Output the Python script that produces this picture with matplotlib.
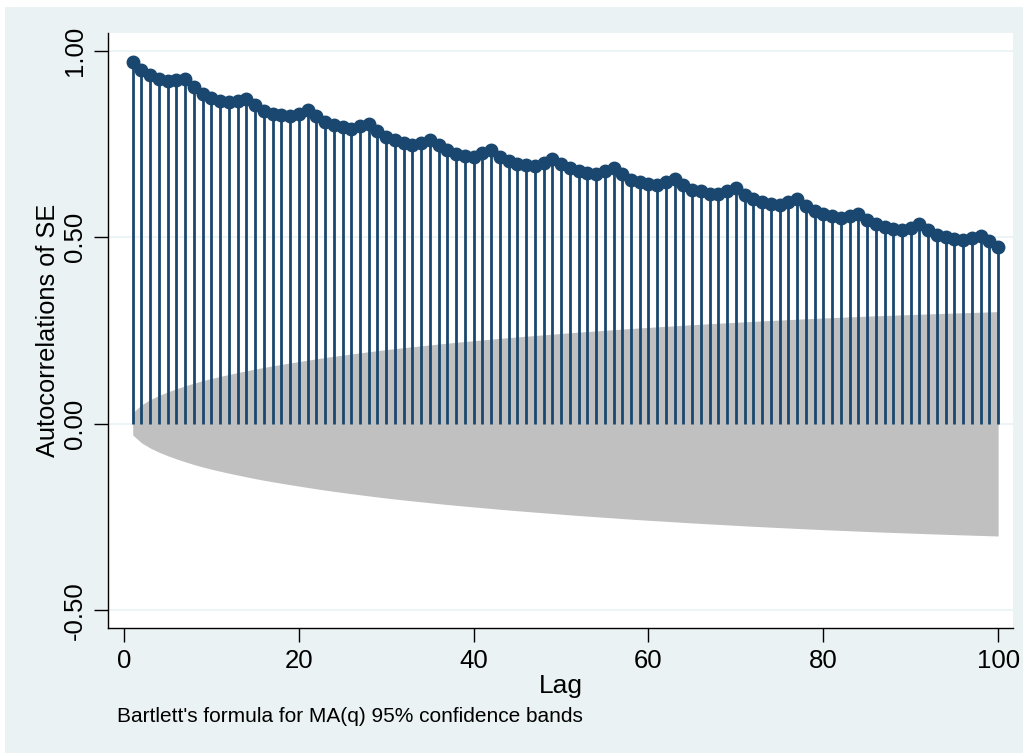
import numpy as np
import matplotlib
matplotlib.use("Agg")
import matplotlib.pyplot as plt
from matplotlib.patches import Rectangle

plt.rcParams['font.family'] = ['Liberation Sans', 'DejaVu Sans']

# autocorrelations of SE, lags 1..100
lags = np.arange(1, 101)
ac = [0.969, 0.947, 0.934, 0.925, 0.918, 0.921, 0.925, 0.902, 0.883, 0.873,
      0.866, 0.862, 0.866, 0.871, 0.853, 0.837, 0.831, 0.827, 0.824, 0.831,
      0.840, 0.824, 0.808, 0.800, 0.795, 0.791, 0.798, 0.802, 0.784, 0.769,
      0.760, 0.753, 0.748, 0.753, 0.761, 0.748, 0.733, 0.724, 0.718, 0.715,
      0.726, 0.733, 0.715, 0.704, 0.697, 0.693, 0.692, 0.699, 0.710, 0.697,
      0.684, 0.676, 0.672, 0.670, 0.678, 0.685, 0.668, 0.654, 0.647, 0.643,
      0.641, 0.647, 0.656, 0.641, 0.627, 0.623, 0.617, 0.616, 0.625, 0.632,
      0.614, 0.601, 0.593, 0.589, 0.587, 0.594, 0.601, 0.583, 0.570, 0.563,
      0.556, 0.551, 0.556, 0.563, 0.547, 0.534, 0.526, 0.522, 0.520, 0.525,
      0.534, 0.520, 0.507, 0.500, 0.496, 0.493, 0.498, 0.504, 0.490, 0.474]
nobs = 4270

yticks = [-0.5, 0.0, 0.5, 1.0]
ytick_labels = ["-0.50", "0.00", "0.50", "1.00"]
xticks = [0, 20, 40, 60, 80, 100]

# Bartlett's formula for MA(q): se_k = sqrt((1 + 2*sum_{i<k} r_i^2) / N)
r = np.array(ac)
cum = np.concatenate([[0.0], np.cumsum(r[:-1] ** 2)])
band = 1.959964 * np.sqrt((1 + 2 * cum) / nobs)

navy = "#1A476F"
bg = "#EAF2F3"

fig = plt.figure(figsize=(10.27, 7.53), dpi=100, facecolor="white")
fig.patches.append(Rectangle((5 / 1027, 0), 1018 / 1027, 746 / 753,
                             transform=fig.transFigure, facecolor=bg,
                             edgecolor="none", zorder=-5))
ax = fig.add_axes([108 / 1027, 1 - 628 / 753, 905 / 1027, 595 / 753])
ax.set_facecolor("white")

for y in yticks:
    ax.axhline(y, color=bg, lw=1.2, zorder=0)

ax.fill_between(lags, -band, band, color="#C0C0C0", lw=0, zorder=1)
ax.vlines(lags, 0, ac, color=navy, lw=2.0, zorder=2)
ax.plot(lags, ac, "o", color=navy, ms=9, zorder=3)

ax.set_xlim(-1.83, 101.7)
ax.set_ylim(-0.547, 1.047)
ax.set_xticks(xticks)
ax.set_yticks(yticks)
ax.set_yticklabels(ytick_labels, rotation=90, va="center")
ax.tick_params(axis="both", labelsize=18.5, length=10, width=1, color="black")
ax.tick_params(axis="x", pad=5)
ax.tick_params(axis="y", pad=5)

for s in ["top", "right"]:
    ax.spines[s].set_visible(False)
for s in ["left", "bottom"]:
    ax.spines[s].set_linewidth(1)

ax.set_xlabel("Lag", fontsize=19, va="center")
ax.xaxis.set_label_coords(0.5, (628 - 686) / 595)
ax.set_ylabel("Autocorrelations of SE", fontsize=18.3, va="center")
ax.yaxis.set_label_coords((48 - 108) / 905, 0.5)

fig.text(117 / 1027, 1 - 717 / 753, "Bartlett's formula for MA(q) 95% confidence bands",
         fontsize=15, va="center", ha="left")

fig.savefig("out.png", dpi=100)
